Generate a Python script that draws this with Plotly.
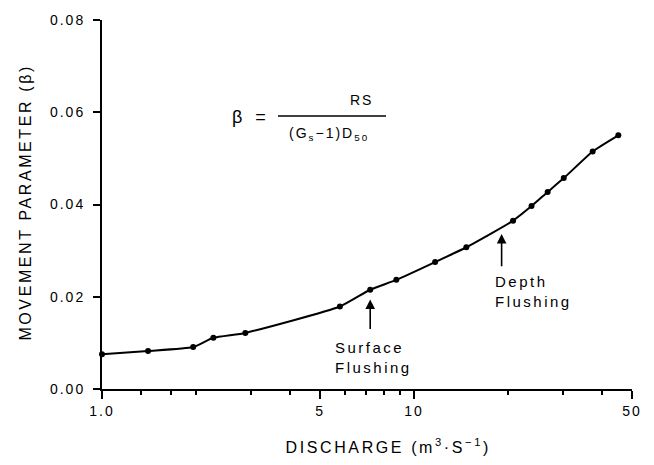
import json
import math
import plotly.graph_objects as go

# Data
discharge = [1.0, 1.405, 1.96, 2.275, 2.88, 5.79, 7.24, 8.78, 11.69, 14.72,
             20.78, 23.82, 26.83, 30.22, 37.4, 45.2]
beta = [0.00754, 0.00824, 0.0091, 0.0111, 0.01216, 0.01788, 0.02152, 0.02366,
        0.02752, 0.03073, 0.0365, 0.03966, 0.04272, 0.04572, 0.0515, 0.055]

x_tickvals = [1, 5, 10, 50]
x_ticktext = ["1.0", "5", "10", "50"]
x_minor = [1.33, 1.67, 2, 3, 4, 6, 7, 8, 9, 20, 30, 40]
y_tickvals = [0.0, 0.02, 0.04, 0.06, 0.08]
y_ticktext = ["0.00", "0.02", "0.04", "0.06", "0.08"]

# Annotation anchors (data coords)
surface_x, surface_tip, surface_tail = 7.24, 0.0194, 0.0127
depth_x, depth_tip, depth_tail = 19.1, 0.0336, 0.0263

W, H = 654, 465
L, R, T, B = 102, 22, 16, 76
FONT = "Liberation Sans, Arial, sans-serif"


def px(xp):
    return (xp - L) / (W - L - R)


def py(yp):
    return (H - B - yp) / (H - T - B)


fig = go.Figure()
fig.add_trace(go.Scatter(
    x=discharge, y=beta, mode="lines+markers",
    line=dict(color="black", width=2, shape="spline", smoothing=0.5),
    marker=dict(color="black", size=6),
    showlegend=False, cliponaxis=False,
))

ann = []
spacing = []  # letter spacing (px) per annotation


def add(spc, **kw):
    ann.append(kw)
    spacing.append(spc)


# arrows
add(0, x=math.log10(surface_x), y=surface_tip, ax=math.log10(surface_x), ay=surface_tail,
    xref="x", yref="y", axref="x", ayref="y", showarrow=True, text="",
    arrowhead=2, arrowsize=1.2, arrowwidth=1.6, arrowcolor="black")
add(0, x=math.log10(depth_x), y=depth_tip, ax=math.log10(depth_x), ay=depth_tail,
    xref="x", yref="y", axref="x", ayref="y", showarrow=True, text="",
    arrowhead=2, arrowsize=1.2, arrowwidth=1.6, arrowcolor="black")
# labels
add(2.5, x=px(333), y=py(336), xref="paper", yref="paper", xanchor="left", yanchor="top",
    text="Surface<br>Flushing", showarrow=False, align="left",
    font=dict(family=FONT, size=15, color="black"))
add(2.5, x=px(493), y=py(270), xref="paper", yref="paper", xanchor="left", yanchor="top",
    text="Depth<br>Flushing", showarrow=False, align="left",
    font=dict(family=FONT, size=15, color="black"))
# formula
add(1, x=px(249), y=py(114), xref="paper", yref="paper", xanchor="center", yanchor="middle",
    text="β  =", showarrow=False, font=dict(family=FONT, size=18, color="black"))
add(2, x=px(361), y=py(97), xref="paper", yref="paper", xanchor="center", yanchor="middle",
    text="RS", showarrow=False, font=dict(family=FONT, size=14, color="black"))
add(2, x=px(329), y=py(131), xref="paper", yref="paper", xanchor="center", yanchor="middle",
    text="(G<sub>s</sub>−1)D<sub>50</sub>", showarrow=False,
    font=dict(family=FONT, size=14, color="black"))
# axis titles
add(2.6, x=px(388), y=py(447), xref="paper", yref="paper", xanchor="center", yanchor="middle",
    text="DISCHARGE (m<sup>3</sup>·S<sup>−1</sup>)", showarrow=False,
    font=dict(family=FONT, size=16, color="black"))
add(2.6, x=px(25), y=py(201), xref="paper", yref="paper", xanchor="center", yanchor="middle",
    text="MOVEMENT PARAMETER (β)", textangle=-90, showarrow=False,
    font=dict(family=FONT, size=16, color="black"))

shapes = [dict(type="line", xref="paper", yref="paper", x0=px(278), x1=px(386),
               y0=py(113), y1=py(113), line=dict(color="black", width=1.5))]

fig.update_layout(
    width=W, height=H, margin=dict(l=L, r=R, t=T, b=B),
    paper_bgcolor="white", plot_bgcolor="white",
    font=dict(family=FONT, size=14, color="black"),
    annotations=ann, shapes=shapes,
    xaxis=dict(type="log", range=[0, math.log10(50)], tickmode="array",
               tickvals=x_tickvals, ticktext=x_ticktext, ticks="outside", ticklen=8,
               tickwidth=2, tickcolor="black", showline=True, linecolor="black", linewidth=2,
               showgrid=False, zeroline=False, tickfont=dict(family=FONT, size=14, color="black"),
               minor=dict(tickmode="array", tickvals=x_minor, ticks="outside", ticklen=4,
                          tickwidth=1.5, tickcolor="black", showgrid=False)),
    yaxis=dict(range=[0, 0.08], tickmode="array", tickvals=y_tickvals, ticktext=y_ticktext,
               ticks="outside", ticklen=7, tickwidth=2, tickcolor="black", showline=True,
               linecolor="black", linewidth=2, showgrid=False, zeroline=False,
               ticklabelstandoff=5, tickfont=dict(family=FONT, size=14, color="black")),
)

post = """
(function(){
  var gd = document.getElementById('{plot_id}');
  var sp = %s;
  function apply(){
    gd.querySelectorAll('g.annotation').forEach(function(g){
      var i = parseInt(g.getAttribute('data-index'));
      var t = g.querySelector('text');
      if (t && sp[i]) { t.style.letterSpacing = sp[i] + 'px'; }
    });
    gd.querySelectorAll('.xtick text, .ytick text').forEach(function(t){
      t.style.letterSpacing = '2px';
    });
  }
  apply();
  setTimeout(apply, 50);
  if (gd.on) { gd.on('plotly_afterplot', apply); }
})();
""" % json.dumps(spacing)

fig.write_html("out.html", post_script=post)
